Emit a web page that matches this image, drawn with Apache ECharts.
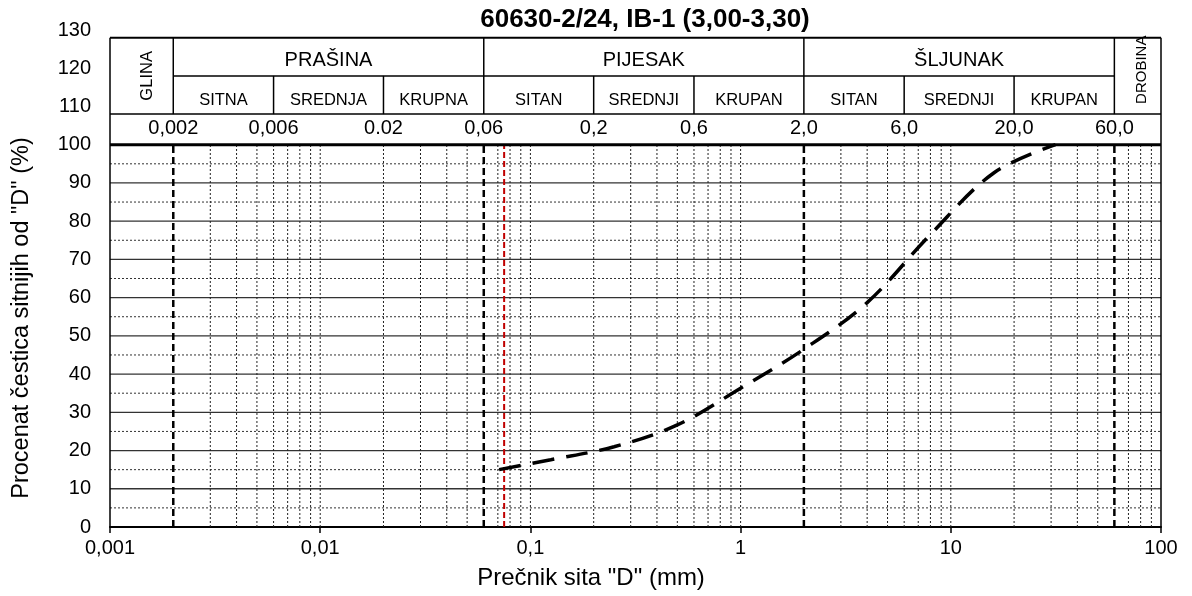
<!DOCTYPE html>
<html>
<head>
<meta charset="utf-8">
<title>60630-2/24, IB-1 (3,00-3,30)</title>
<script src="https://cdn.jsdelivr.net/npm/echarts@6/dist/echarts.min.js"></script>
<style>
  html, body { margin: 0; padding: 0; background: #fff; }
  #chart { width: 1192px; height: 596px; }
</style>
</head>
<body>
<div id="chart"></div>
<script>
// Granulometric curve - sieve analysis

const chartTitle = '60630-2/24, IB-1 (3,00-3,30)';
const xAxisTitle = 'Prečnik sita "D" (mm)';
const yAxisTitle = 'Procenat čestica sitnijih od "D" (%)';

// sieve opening (mm) / percent passing
const sieveSizes = [0.071, 0.125, 0.25, 0.5, 1, 2, 4, 8, 16, 31.5];
const percentPassing = [15, 17.6, 21, 26.7, 36.3, 46.5, 58.7, 76.5, 92.6, 100];

// red marker line (mm)
const markerSize = 0.075;

// fraction boundaries in the header table
const boundaries = [0.002, 0.006, 0.02, 0.06, 0.2, 0.6, 2, 6, 20, 60];
const boundaryLabels = ['0,002', '0,006', '0.02', '0,06', '0,2', '0,6', '2,0', '6,0', '20,0', '60,0'];
const mainBoundaries = [0.002, 0.06, 2, 60];

const mainGroups = ['PRAŠINA', 'PIJESAK', 'ŠLJUNAK'];
const subGroups = ['SITNA', 'SREDNJA', 'KRUPNA', 'SITAN', 'SREDNJI', 'KRUPAN', 'SITAN', 'SREDNJI', 'KRUPAN'];
const clayLabel = 'GLINA';
const bouldersLabel = 'DROBINA';

const yTicks = [0, 10, 20, 30, 40, 50, 60, 70, 80, 90, 100, 110, 120, 130];
const xTickLabels = ['0,001', '0,01', '0,1', '1', '10', '100'];

const X_MIN = 0.001, X_MAX = 100;
// header rows, in % units of the y axis
const ROW_TOP = 128, ROW_MID = 118, ROW_NUM = 108, PLOT_TOP = 100;

const FONT = "'Liberation Sans', Arial, sans-serif";

function isMain(x) {
    return mainBoundaries.some(b => Math.abs(Math.log10(x / b)) < 1e-6);
}

function gmean(a, b) {
    return Math.sqrt(a * b);
}

function renderFrame(params, api) {
    const children = [];
    const line = (x1, y1, x2, y2, style) => {
        const p1 = api.coord([x1, y1]);
        const p2 = api.coord([x2, y2]);
        children.push({
            type: 'line',
            silent: true,
            shape: { x1: p1[0], y1: p1[1], x2: p2[0], y2: p2[1] },
            style: Object.assign({ stroke: '#000', fill: null, lineWidth: 1 }, style)
        });
    };
    const text = (x, y, str, font, rotate) => {
        const p = api.coord([x, y]);
        children.push({
            type: 'text',
            silent: true,
            x: p[0],
            y: p[1],
            rotation: rotate ? Math.PI / 2 : 0,
            style: { text: str, x: 0, y: 0, font: font, fill: '#000', align: 'center', verticalAlign: 'middle' }
        });
    };

    // horizontal grid
    for (let v = 5; v < PLOT_TOP; v += 10) {
        line(X_MIN, v, X_MAX, v, { stroke: '#333', lineDash: [2, 2] });
    }
    for (let v = 10; v < PLOT_TOP; v += 10) {
        line(X_MIN, v, X_MAX, v, { stroke: '#333', lineWidth: 1.3 });
    }

    // vertical grid: 1..9 per decade
    for (let d = X_MIN; d < X_MAX * 0.99; d *= 10) {
        for (let k = 1; k <= 9; k++) {
            const x = k * d;
            if (k === 1 && d === X_MIN) continue;
            if (isMain(x)) {
                line(x, 0, x, PLOT_TOP, { lineWidth: 2.5, lineDash: [7, 4] });
            } else {
                line(x, 0, x, PLOT_TOP, { stroke: '#222', lineDash: [2, 2] });
            }
        }
    }
    // marker line
    line(markerSize, 0, markerSize, PLOT_TOP, { stroke: '#c00000', lineWidth: 2, lineDash: [6, 3] });

    // frame
    line(X_MIN, 0, X_MIN, ROW_TOP, { lineWidth: 1.5 });
    line(X_MAX, 0, X_MAX, ROW_TOP, { lineWidth: 1.5 });
    line(X_MIN, PLOT_TOP, X_MAX, PLOT_TOP, { lineWidth: 3 });
    line(X_MIN, ROW_NUM, X_MAX, ROW_NUM, { lineWidth: 1.5 });
    line(X_MIN, ROW_TOP, X_MAX, ROW_TOP, { lineWidth: 2 });
    line(boundaries[0], ROW_MID, boundaries[boundaries.length - 1], ROW_MID, { lineWidth: 1.5 });

    // header verticals
    boundaries.forEach(b => {
        line(b, ROW_NUM, b, isMain(b) ? ROW_TOP : ROW_MID, { lineWidth: 1.5 });
    });

    // boundary numbers
    boundaries.forEach((b, i) => {
        text(b, 104.3, boundaryLabels[i], '20px ' + FONT);
    });
    // sub fractions
    subGroups.forEach((s, i) => {
        text(gmean(boundaries[i], boundaries[i + 1]), 111.7, s, '16.5px ' + FONT);
    });
    // main fractions
    mainGroups.forEach((s, i) => {
        text(gmean(mainBoundaries[i], mainBoundaries[i + 1]), 122, s, '20px ' + FONT);
    });
    text(gmean(X_MIN, boundaries[0]) * 1.06, 118, clayLabel, '16.5px ' + FONT, true);
    text(gmean(mainBoundaries[3], X_MAX) * 1.05, 119.6, bouldersLabel, '15px ' + FONT, true);

    return { type: 'group', children: children };
}

const chart = echarts.init(document.getElementById('chart'));

const option = {
    animation: false,
    backgroundColor: '#fff',
    title: {
        text: chartTitle,
        left: 640,
        top: 2,
        textAlign: 'center',
        textStyle: { fontFamily: FONT, fontSize: 26, fontWeight: 'bold', color: '#000' }
    },
    grid: { left: 110, right: 31, top: 30, bottom: 69, containLabel: false },
    xAxis: {
        type: 'log',
        logBase: 10,
        min: X_MIN,
        max: X_MAX,
        splitNumber: 5,
        axisLine: { lineStyle: { color: '#000', width: 2 } },
        axisTick: { show: true, length: 6, lineStyle: { color: '#000', width: 1.5 } },
        axisLabel: {
            fontFamily: FONT,
            fontSize: 20,
            color: '#000',
            margin: 11,
            formatter: function (v) {
                const i = Math.round(Math.log10(v) - Math.log10(X_MIN));
                return xTickLabels[i] !== undefined ? xTickLabels[i] : '';
            }
        },
        splitLine: { show: false },
        minorTick: { show: false }
    },
    yAxis: {
        type: 'value',
        min: yTicks[0],
        max: yTicks[yTicks.length - 1],
        interval: 10,
        axisLine: { show: false },
        axisTick: { show: false },
        axisLabel: { fontFamily: FONT, fontSize: 20, color: '#000', margin: 19 },
        splitLine: { show: false }
    },
    graphic: [
        {
            type: 'text',
            x: 591,
            y: 578,
            style: { text: xAxisTitle, font: '24px ' + FONT, fill: '#000', align: 'center', verticalAlign: 'middle' }
        },
        {
            type: 'text',
            x: 22,
            y: 318,
            rotation: Math.PI / 2,
            style: { text: yAxisTitle, font: '23.5px ' + FONT, fill: '#000', align: 'center', verticalAlign: 'middle' }
        }
    ],
    series: [
        {
            type: 'custom',
            name: 'frame',
            coordinateSystem: 'cartesian2d',
            renderItem: renderFrame,
            data: [[X_MIN, 0]],
            clip: false,
            silent: true,
            z: 1
        },
        {
            type: 'line',
            name: 'kriva',
            data: sieveSizes.map((s, i) => [s, percentPassing[i]]),
            smooth: 0.35,
            symbol: 'none',
            lineStyle: { color: '#000', width: 3.5, type: [22, 12], cap: 'butt' },
            z: 5
        }
    ]
};

chart.setOption(option);
</script>
</body>
</html>
